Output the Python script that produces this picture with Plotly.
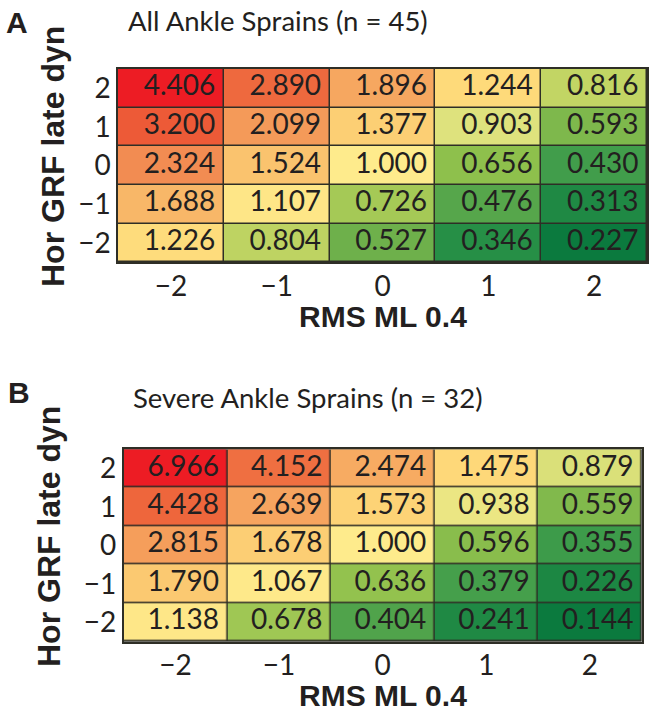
import plotly.graph_objects as go

# ---------------- data ----------------
x_vals = [-2, -1, 0, 1, 2]          # RMS ML 0.4
y_vals = [-2, -1, 0, 1, 2]          # Hor GRF late dyn
tick_text = ["\u22122", "\u22121", "0", "1", "2"]

# rows ordered by y_vals (y = -2 first)
all_sprains = [
    [1.226, 0.804, 0.527, 0.346, 0.227],
    [1.688, 1.107, 0.726, 0.476, 0.313],
    [2.324, 1.524, 1.000, 0.656, 0.430],
    [3.200, 2.099, 1.377, 0.903, 0.593],
    [4.406, 2.890, 1.896, 1.244, 0.816],
]
severe_sprains = [
    [1.138, 0.678, 0.404, 0.241, 0.144],
    [1.790, 1.067, 0.636, 0.379, 0.226],
    [2.815, 1.678, 1.000, 0.596, 0.355],
    [4.428, 2.639, 1.573, 0.938, 0.559],
    [6.966, 4.152, 2.474, 1.475, 0.879],
]
title_a = "All Ankle Sprains (n = 45)"
title_b = "Severe Ankle Sprains (n = 32)"
x_title = "RMS ML 0.4"
y_title = "Hor GRF late dyn"

# ---------------- styling ----------------
W, H = 650, 711
TEXT = "#231f20"
BORDER = "#2e2e26"
NUM_FONT = "Lato"
BOLD_FONT = "Liberation Sans, Arial"

green_stops = [(0.0, (11, 122, 62)), (0.154, (38, 143, 70)), (0.263, (65, 157, 75)),
               (0.388, (110, 176, 75)), (0.555, (142, 192, 76)), (0.762, (194, 213, 100)),
               (0.875, (222, 226, 125)), (1.0, (254, 235, 140))]
red_stops = [(0.0, (254, 235, 140)), (0.0314, (254, 230, 135)), (0.0716, (254, 218, 122)),
             (0.154, (250, 195, 110)), (0.263, (246, 167, 96)), (0.389, (242, 140, 82)),
             (0.555, (238, 105, 62)), (0.646, (237, 90, 55)), (1.0, (237, 28, 36))]


def make_scale(zmin, zmax):
    p = (1.0 - zmin) / (zmax - zmin)
    cs = []
    for s, c in green_stops:
        cs.append([p * s, "rgb(%d,%d,%d)" % c])
    for s, c in red_stops[1:]:
        cs.append([p + (1 - p) * s, "rgb(%d,%d,%d)" % c])
    cs[-1][0] = 1.0
    return cs


def px(x):
    return x / W


def py(y):
    return 1 - y / H


fig = go.Figure()

panels = [
    (all_sprains, "x", "y"),
    (severe_sprains, "x2", "y2"),
]

for z, xa, ya in panels:
    flat = [v for row in z for v in row]
    zmin, zmax = min(flat), max(flat)
    fig.add_trace(go.Heatmap(
        z=z, x=x_vals, y=y_vals, xaxis=xa, yaxis=ya,
        zmin=zmin, zmax=zmax, colorscale=make_scale(zmin, zmax),
        showscale=False, xgap=1.5, ygap=1.5, hoverinfo="skip",
    ))
    tx, ty, tt = [], [], []
    for i, yv in enumerate(y_vals):
        for j, xv in enumerate(x_vals):
            tx.append(xv + 0.42)
            ty.append(yv)
            tt.append("%.3f" % z[i][j])
    fig.add_trace(go.Scatter(
        x=tx, y=ty, text=tt, mode="text", xaxis=xa, yaxis=ya,
        textposition="middle left", hoverinfo="skip", showlegend=False,
        textfont=dict(family=NUM_FONT, size=28, color=TEXT),
    ))

axis_common = dict(
    range=[-2.5, 2.5], tickvals=x_vals, ticktext=tick_text,
    showgrid=False, zeroline=False, showline=True, mirror=True,
    linecolor=BORDER, linewidth=1.5, ticks="",
    tickfont=dict(family=NUM_FONT, size=28, color=TEXT), fixedrange=True,
)

fig.update_layout(
    width=W, height=H, margin=dict(l=0, r=0, t=0, b=0),
    paper_bgcolor="white", plot_bgcolor=BORDER, showlegend=False,
    xaxis=dict(axis_common, domain=[px(118), px(647)], anchor="y", ticklabelstandoff=-2),
    yaxis=dict(axis_common, domain=[py(262.3), py(69)], anchor="x", ticklabelstandoff=0),
    xaxis2=dict(axis_common, domain=[px(123.7), px(641.7)], anchor="y2", ticklabelstandoff=-2),
    yaxis2=dict(axis_common, domain=[py(641.7), py(449.3)], anchor="x2", ticklabelstandoff=0),
)

ann = []
# panel letters
ann.append(dict(text="A", x=px(4), y=py(23), xanchor="left", yanchor="middle",
                font=dict(family=BOLD_FONT, size=30, color=TEXT, weight="bold")))
ann.append(dict(text="B", x=px(6), y=py(392), xanchor="left", yanchor="middle",
                font=dict(family=BOLD_FONT, size=30, color=TEXT, weight="bold")))
# panel titles
ann.append(dict(text=title_a, x=px(126), y=py(20), xanchor="left", yanchor="middle",
                font=dict(family=NUM_FONT, size=27.5, color=TEXT)))
ann.append(dict(text=title_b, x=px(131), y=py(397), xanchor="left", yanchor="middle",
                font=dict(family=NUM_FONT, size=27.5, color=TEXT)))
# axis titles
for xc, yc_x, yc_y, xt in [((118 + 647) / 2, 316, 157, 53), ((123.7 + 641.7) / 2, 695, 537, 49)]:
    ann.append(dict(text=x_title, x=px(xc), y=py(yc_x), xanchor="center", yanchor="middle",
                    font=dict(family=BOLD_FONT, size=30, color=TEXT, weight="bold")))
    ann.append(dict(text=y_title, x=px(xt), y=py(yc_y), xanchor="center", yanchor="middle",
                    textangle=-90,
                    font=dict(family=BOLD_FONT, size=32, color=TEXT, weight="bold")))

for a in ann:
    a.update(xref="paper", yref="paper", showarrow=False)
fig.update_layout(annotations=ann)

fig.write_html(
    "out.html",
    config={"displayModeBar": False},
    post_script="document.body.style.margin='0';document.body.style.overflow='hidden';",
)
